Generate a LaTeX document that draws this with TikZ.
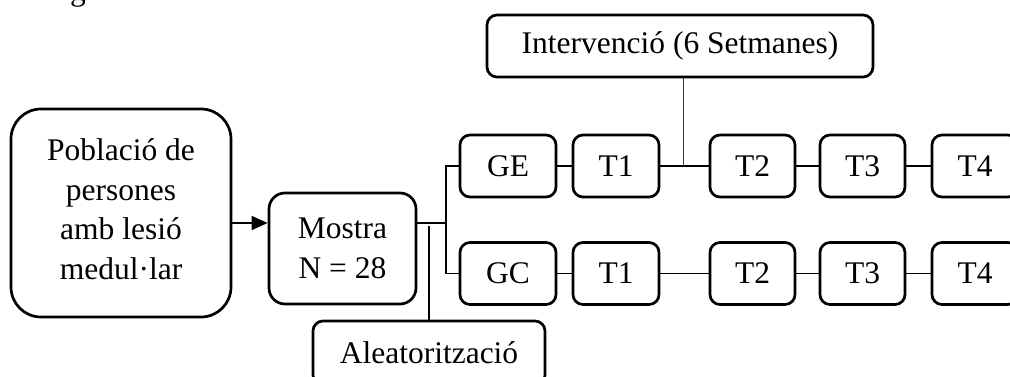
\documentclass[tikz,border=0pt]{standalone}
\usepackage{fontspec}
\setmainfont{Liberation Serif}
\usetikzlibrary{arrows.meta}
\begin{document}
\begin{tikzpicture}[x=1pt,y=-1pt,
  box/.style={draw=black,line width=2.7pt,rounded corners=10pt,inner sep=0pt,align=center,
    font=\fontsize{31.5}{39.5}\selectfont},
  tbox/.style={box,minimum width=86pt,minimum height=62pt},
  conn/.style={draw=black,line width=1.5pt},
  thin/.style={draw=black!75,line width=1.2pt}]
\useasboundingbox (0,0) rectangle (1010,377);
\clip (0,0) rectangle (1010,377);
\node[anchor=base west,inner sep=0pt,font=\fontsize{31.5}{36}\selectfont] (cap) at (70,0.5) {g};
% boxes
\node[box,rounded corners=30pt,minimum width=220pt,minimum height=208pt] (pob) at (121,213)
  {Població de\\persones\\amb lesió\\medul·lar\rule[-8pt]{0pt}{8pt}};
\node[box,rounded corners=16pt,minimum width=147pt,minimum height=111pt] (mostra) at (342.5,248.5)
  {Mostra\\N = 28};
\node[box,minimum width=386pt,minimum height=62pt] (int) at (680,46) {Intervenció (6 Setmanes)};
\node[box,minimum width=232pt,minimum height=64pt] (ale) at (429,353) {Aleatorització};
\node[tbox,minimum width=96pt] (ge) at (508,166) {GE};
\node[tbox] (t1a) at (616,166) {T1};
\node[tbox,minimum width=85pt] (t2a) at (752.5,166) {T2};
\node[tbox,minimum width=85pt] (t3a) at (862.5,166) {T3};
\node[tbox] (t4a) at (975,166) {T4};
\node[tbox,minimum width=96pt] (gc) at (508,273.5) {GC};
\node[tbox] (t1b) at (616,273.5) {T1};
\node[tbox,minimum width=85pt] (t2b) at (752.5,273.5) {T2};
\node[tbox,minimum width=85pt] (t3b) at (862.5,273.5) {T3};
\node[tbox] (t4b) at (975,273.5) {T4};
% connectors
\coordinate (arr) at (0,223);
\draw[conn,-{Triangle[length=16pt,width=14pt]}] (pob.east |- arr) -- (mostra.west |- arr);
\coordinate (split) at (446,223);
\draw[conn] (mostra.east |- split) -- (split);
\draw[conn] (ge.west) -| (split) |- (gc.west);
\coordinate (aletop) at (429,225.5);
\draw[conn] (aletop) -- (aletop |- ale.north);
\draw[conn] (ge.east) -- (t1a.west);
\draw[conn] (t1a.east) -- (t2a.west);
\draw[conn] (t2a.east) -- (t3a.west);
\draw[conn] (t3a.east) -- (t4a.west);
\draw[conn] (gc.east) -- (t1b.west);
\draw[conn] (t1b.east) -- (t2b.west);
\draw[conn] (t2b.east) -- (t3b.west);
\draw[conn] (t3b.east) -- (t4b.west);
\coordinate (ij) at (683.5,166);
\draw[thin] (int.south -| ij) -- (ij);
\end{tikzpicture}
\end{document}
